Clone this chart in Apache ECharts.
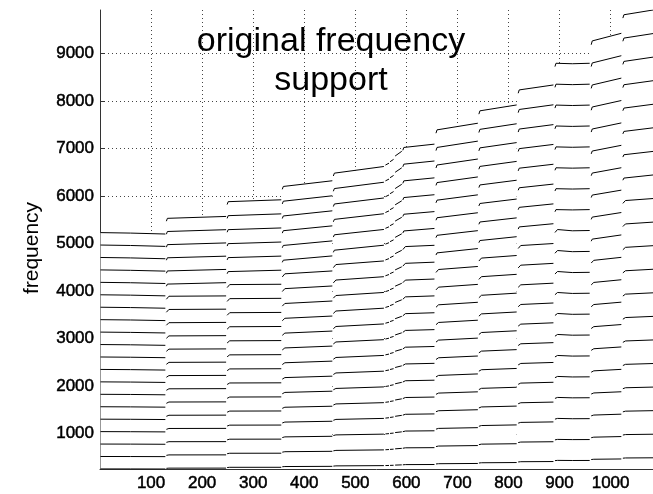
<!DOCTYPE html>
<html><head><meta charset="utf-8">
<script src="https://cdn.jsdelivr.net/npm/echarts@6/dist/echarts.min.js"></script>
<style>html,body{margin:0;padding:0;background:#fff}#c{width:653px;height:494px}</style>
</head><body><div id="c"></div>
<script>
// fundamental-frequency track (frame, Hz); '-' marks a break between analysis blocks
const f0Frames = [1, 60, 128, 129,
  130, 132, 135, 247, 248,
  249, 251, 254, 355, 356,
  357, 359, 362, 455, 456,
  457, 459, 462, 556, 557,
  559, 566, 567,
  568, 575, 576,
  578, 591, 592,
  593, 595, 598, 655, 656,
  658, 660, 663, 740, 741,
  742, 744, 747, 816, 817,
  819, 821, 824, 888, 889,
  891, 893, 896, 925, 959, 960,
  962, 964, 967, 1021, 1022,
  1024, 1026, 1029, 1083];
const f0Values = [261.5, 261.0, 260.0, '-',
  273.5, 276.5, 278.0, 278.5, '-',
  291.0, 294.0, 295.5, 296.0, '-',
  307.0, 310.0, 311.7, 316.0, '-',
  321.0, 324.0, 325.6, 331.0, '-',
  332.5, 334.5, '-',
  336.0, 338.5, '-',
  342.0, 347.0, '-',
  348.0, 351.0, 352.6, 354.5, '-',
  366.0, 369.5, 371.2, 376.5, '-',
  386.0, 389.5, 391.2, 395.7, '-',
  408.0, 411.5, 413.2, 416.7, '-',
  436.0, 439.5, 441.2, 439.0, 439.5, '-',
  459.0, 463.0, 464.7, 471.0, '-',
  487.0, 490.5, 492.0, 495.5];
const harmonics = [1,2,3,4,5,6,7,8,9,10,11,12,13,14,15,16,17,18,19,20];
const xTicks = [100,200,300,400,500,600,700,800,900,1000];
const yTicks = [1000,2000,3000,4000,5000,6000,7000,8000,9000];
const titleText = 'original frequency\nsupport';
const yName = 'frequency';

const chart = echarts.init(document.getElementById('c'), null, {renderer:'canvas'});
const topK = harmonics[harmonics.length-1];
const series = harmonics.map(k => {
  const data = f0Frames.map((x,i) => [x, f0Values[i] === '-' ? '-' : k*f0Values[i]]);
  const s = {type:'line', data, symbol:'none', silent:true, animation:false,
    lineStyle:{color:'#000', width:1}, z: 3, connectNulls:false};
  if (k === topK) { s.areaStyle = {color:'#fff', opacity:1, origin:'start'}; s.z = 2; }
  return s;
});
const font = '"Liberation Sans", Arial, Helvetica, sans-serif';
const plain = v => String(v);
const tickLabel = {formatter:plain, fontSize:17, color:'#000', fontFamily:font, margin:6,
  textBorderColor:'#000', textBorderWidth:0.5};
chart.setOption({
  animation:false,
  backgroundColor:'#fff',
  grid:{left:100, right:0, top:10, bottom:25, containLabel:false},
  xAxis:{type:'value', min:0, max:1083,
    axisLine:{show:true, onZero:false, lineStyle:{color:'#333', width:1}},
    axisTick:{show:true, inside:true, length:5, customValues:xTicks, lineStyle:{color:'#333'}},
    axisLabel:Object.assign({customValues:xTicks}, tickLabel),
    splitLine:{show:true, lineStyle:{type:[1,3], color:'#444', width:1}}},
  yAxis:{type:'value', min:260, max:9910,
    axisLine:{show:true, onZero:false, lineStyle:{color:'#333', width:1}},
    axisTick:{show:true, inside:true, length:5, customValues:yTicks, lineStyle:{color:'#333'}},
    axisLabel:Object.assign({customValues:yTicks}, tickLabel),
    splitLine:{show:true, lineStyle:{type:[1,3], color:'#444', width:1}}},
  graphic:[
    {type:'text', x:331, y:22, z:10, style:{text:titleText, fontSize:34, fontFamily:font, fill:'#000',
      align:'center', verticalAlign:'top', lineHeight:39}},
    {type:'text', x:32, y:248, rotation:Math.PI/2, z:10, style:{text:yName, fontSize:21, fontFamily:font,
      fill:'#000', align:'center', verticalAlign:'middle'}}
  ],
  series
});
</script></body></html>
